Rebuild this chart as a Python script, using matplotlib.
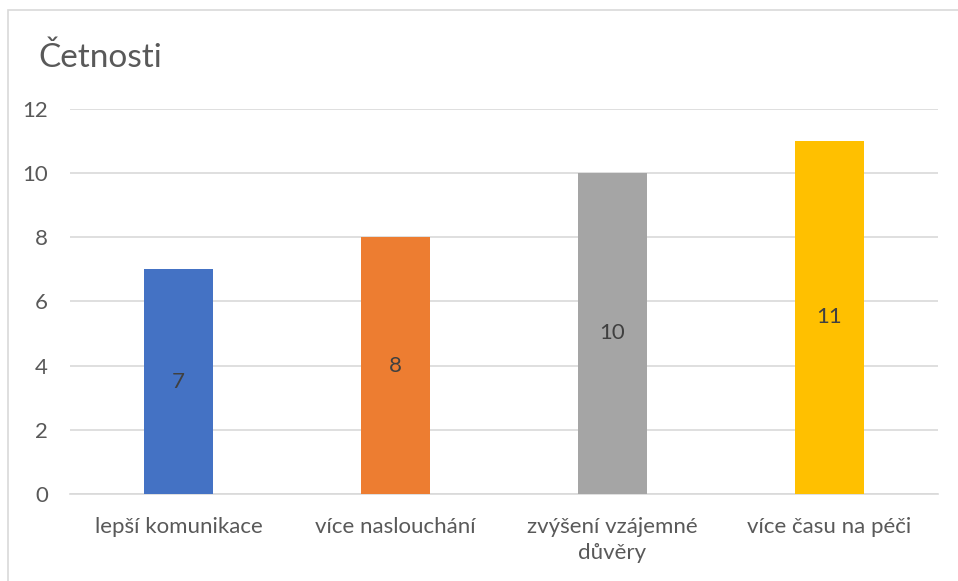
import matplotlib.pyplot as plt
from matplotlib.patches import Rectangle

# četnosti odpovědí
kategorie = ['lepší komunikace', 'více naslouchání', 'zvýšení vzájemné\ndůvěry', 'více času na péči']
cetnosti = [7, 8, 10, 11]
barvy = ['#4472C4', '#ED7D31', '#A5A5A5', '#FFC000']

plt.rcParams['font.family'] = ['Lato', 'DejaVu Sans']
text_barva = '#595959'

fig = plt.figure(figsize=(9.58, 5.81), dpi=100)
ax = fig.add_axes([0.0731, 0.150, 0.9061, 0.6626])

# rámeček grafu
fig.patches.append(Rectangle((8 / 958, -0.1), 1.2, 1 - 10 / 581 + 0.1,
                             transform=fig.transFigure, fill=False,
                             edgecolor='#D9D9D9', linewidth=1.2))

x = range(len(kategorie))
sloupce = ax.bar(x, cetnosti, width=0.315, color=barvy, zorder=3)
for s, v in zip(sloupce, cetnosti):
    ax.text(s.get_x() + s.get_width() / 2, v / 2, str(v), ha='center', va='center',
            fontsize=16, color='#404040', zorder=4)

ax.set_xlim(-0.5, len(kategorie) - 0.5)
ax.set_ylim(0, 12)
ax.set_yticks(range(0, 13, 2))
ax.set_xticks(list(x))
ax.set_xticklabels(kategorie, fontsize=16, color=text_barva, linespacing=1.35)
ax.tick_params(axis='y', labelsize=16, labelcolor=text_barva, length=0, pad=16)
ax.tick_params(axis='x', length=0, pad=17)
ax.grid(axis='y', color='#D9D9D9', linewidth=1.2, zorder=0)
for sp in ['top', 'right', 'left']:
    ax.spines[sp].set_visible(False)
ax.spines['bottom'].set_color('#D9D9D9')
ax.spines['bottom'].set_linewidth(1.2)

fig.text(38 / 958, 1 - 58 / 581, 'Četnosti', fontsize=24, color=text_barva,
         ha='left', va='center')

fig.savefig('out.png', dpi=100)
